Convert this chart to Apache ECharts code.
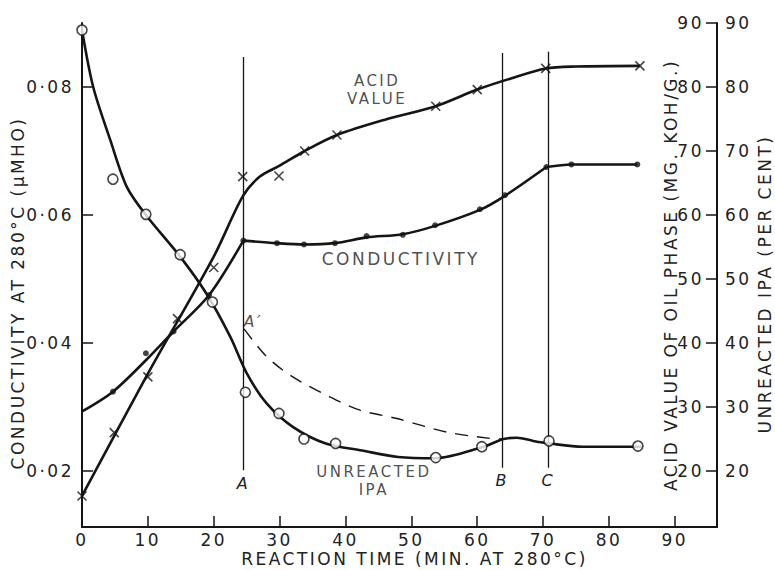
<!DOCTYPE html>
<html>
<head>
<meta charset="utf-8">
<script src="https://cdn.jsdelivr.net/npm/echarts@6/dist/echarts.min.js"></script>
<style>
  html, body { margin: 0; padding: 0; background: #fff; }
  #chart { width: 775px; height: 570px; }
  #chart text { letter-spacing: 2.5px; }
</style>
</head>
<body>
<div id="chart"></div>
<script>
// unreacted IPA (per cent), open circles
const ipaTime = [0, 4.7, 9.7, 14.9, 19.8, 24.8, 29.9, 33.7, 38.5, 53.7, 60.7, 70.9, 84.4];
const ipaValue = [88.9, 65.6, 60.1, 53.8, 46.4, 32.3, 29.0, 25.0, 24.3, 22.1, 23.8, 24.7, 23.9];
// drawn curve through the IPA points
const ipaCurveTime = [0, 1.7, 4.3, 6.8, 9.7, 14.9, 18.9, 22.5, 25, 28, 32, 37, 42.5, 48, 53.7, 60.7, 64, 66, 68.5, 71, 76, 85];
const ipaCurveValue = [88.9, 80, 71.7, 64.4, 60, 53.5, 47.7, 41, 35.3, 30.6, 26.9, 24.3, 23.2, 22.2, 22.0, 23.7, 25.0, 25.2, 24.7, 24.3, 23.8, 23.8];
// dashed A' -> B curve
const dashTime = [24.6, 28, 32, 37.6, 42.2, 47.8, 55.3, 61.9, 63.8];
const dashValue = [42.2, 37.9, 34.7, 31.6, 29.5, 28.2, 26.1, 25.1, 25.0];

// conductivity (umho), filled dots
const condTime = [4.7, 9.7, 13.9, 19.3, 24.5, 29.6, 33.7, 38.4, 43.2, 48.7, 53.6, 60.4, 64.2, 70.5, 74.3, 84.3];
const condValue = [0.0324, 0.0384, 0.0418, 0.0475, 0.0560, 0.0556, 0.0554, 0.0556, 0.0567, 0.0569, 0.0584, 0.0609, 0.0631, 0.0675, 0.0679, 0.0679];
// conductivity curve, null = break at the corners A and C
const condCurveTime = [0, 4.7, 9.7, 13.9, 19.3, 24.5, null, 24.5, 29.6, 33.7, 38.4, 43.2, 48.7, 53.6, 60.4, 64.2, 70.5, null, 70.5, 74.3, 84.3];
const condCurveValue = [0.0293, 0.0324, 0.0373, 0.0418, 0.0475, 0.0560, null, 0.0560, 0.0556, 0.0554, 0.0556, 0.0565, 0.0570, 0.0583, 0.0608, 0.0630, 0.0675, null, 0.0675, 0.0679, 0.0679];

// acid value (mg KOH/g), crosses
const acidTime = [0, 4.9, 10, 14.5, 20, 24.4, 29.9, 33.8, 38.7, 53.7, 60, 70.4, 84.7];
const acidValue = [16.1, 26.0, 34.7, 43.8, 51.8, 66.0, 66.1, 70.0, 72.5, 77.0, 79.6, 82.9, 83.3];
const acidCurveTime = [0, 10, 20, 24.4, 27, 30, 33.8, 38.7, 46, 53.7, 60, 65, 70.4, 75, 84.7];
const acidCurveValue = [16.1, 35.2, 53.5, 62.9, 66, 67.7, 70, 72.5, 74.9, 77, 79.6, 81.3, 82.9, 83.2, 83.3];

// vertical reference lines
const eventName = ['A', 'B', 'C'];
const eventTime = [24.5, 63.8, 70.8];
const eventTop = [84.7, 85.3, 85.5];
const eventBottom = [20.1, 20.5, 20.5];

// text written on the plot
const noteText = ['ACID\nVALUE', 'CONDUCTIVITY', 'UNREACTED\nIPA', 'A′'];
const noteTime = [44.8, 48.4, 44.3, 26.0];
const noteValue = [79.6, 53.1, 18.5, 43.3];

// axis ticks
const timeTicks = [0, 10, 20, 30, 40, 50, 60, 70, 80, 90];
const condTicks = [0.02, 0.04, 0.06, 0.08];
const rightTicks = [20, 30, 40, 50, 60, 70, 80, 90];

const font = 'DejaVu Sans';
const ink = '#151515';
const textColor = '#222';

const zip = (ts, vs) => ts.map((t, i) => (t === null ? ['-', '-'] : [t, vs[i]]));

// two-line notes are set a bit smaller, A' is italic like the event letters
function noteLabel(s) {
  if (s.indexOf('\n') >= 0) return { fontSize: 15, lineHeight: 18 };
  if (s === 'A′') return { fontSize: 16, fontStyle: 'italic' };
  return { fontSize: 17 };
}

const chart = echarts.init(document.getElementById('chart'), null, { renderer: 'svg' });

const txt = { fontFamily: font, fontSize: 17, color: textColor };

const option = {
  animation: false,
  backgroundColor: '#fff',
  grid: { left: 82, right: 58, top: 23, bottom: 43, outerBoundsMode: 'none' },
  xAxis: {
    type: 'value',
    min: 0,
    max: 96.4,
    axisLine: { lineStyle: { color: ink, width: 2 } },
    axisTick: { inside: true, length: 11, customValues: timeTicks, lineStyle: { color: ink, width: 1.5 } },
    axisLabel: Object.assign({ customValues: timeTicks, margin: 4, lineHeight: 17 }, txt),
    splitLine: { show: false },
    name: 'REACTION TIME (MIN. AT 280°C)',
    nameLocation: 'middle',
    nameGap: 23,
    nameMoveOverlap: false,
    nameTextStyle: Object.assign({ padding: [0, 0, 0, 30], lineHeight: 17 }, txt),
  },
  yAxis: [
    {
      type: 'value',
      position: 'left',
      min: 0.01125,
      max: 0.09,
      axisLine: { show: true, lineStyle: { color: ink, width: 2 } },
      axisTick: { show: true, inside: true, length: 11, customValues: condTicks, lineStyle: { color: ink, width: 1.5 } },
      axisLabel: Object.assign({
        customValues: condTicks,
        margin: 8,
        formatter: (v) => v.toFixed(2).replace('.', '·'),
      }, txt),
      splitLine: { show: false },
      name: 'CONDUCTIVITY AT 280°C (μMHO)',
      nameLocation: 'middle',
      nameGap: 56,
      nameMoveOverlap: false,
      nameTextStyle: Object.assign({ padding: [0, 36, 0, 0], lineHeight: 17 }, txt),
    },
    {
      type: 'value',
      position: 'right',
      min: 11.25,
      max: 90,
      axisLine: { show: true, lineStyle: { color: ink, width: 2 } },
      axisTick: { show: true, inside: true, length: 11, customValues: rightTicks, lineStyle: { color: ink, width: 1.5 } },
      axisLabel: Object.assign({ customValues: rightTicks, inside: true, margin: 13 }, txt),
      splitLine: { show: false },
      name: 'ACID VALUE OF OIL PHASE (MG. KOH/G.)',
      nameLocation: 'middle',
      nameGap: -55,
      nameMoveOverlap: false,
      nameTextStyle: Object.assign({ lineHeight: 17 }, txt),
    },
    {
      type: 'value',
      position: 'right',
      min: 11.25,
      max: 90,
      axisLine: { show: false },
      axisTick: { show: false },
      axisLabel: Object.assign({ customValues: rightTicks, margin: 8 }, txt),
      splitLine: { show: false },
      name: 'UNREACTED IPA (PER CENT)',
      nameLocation: 'middle',
      nameGap: 39,
      nameMoveOverlap: false,
      nameTextStyle: Object.assign({ padding: [0, 18, 0, 0], lineHeight: 17 }, txt),
    },
  ],
  series: [
    {
      name: 'IPA curve',
      type: 'line',
      yAxisIndex: 2,
      smooth: 0.3,
      symbol: 'none',
      lineStyle: { color: ink, width: 2.6 },
      data: zip(ipaCurveTime, ipaCurveValue),
      z: 3,
    },
    {
      name: 'IPA extrapolated',
      type: 'line',
      yAxisIndex: 2,
      smooth: 0.3,
      symbol: 'none',
      lineStyle: { color: ink, width: 1.4, type: [13, 9] },
      data: zip(dashTime, dashValue),
      z: 3,
    },
    {
      name: 'Conductivity curve',
      type: 'line',
      yAxisIndex: 0,
      smooth: 0.3,
      symbol: 'none',
      connectNulls: false,
      lineStyle: { color: ink, width: 2.6 },
      data: zip(condCurveTime, condCurveValue),
      z: 3,
    },
    {
      name: 'Acid value curve',
      type: 'line',
      yAxisIndex: 1,
      smooth: 0.3,
      symbol: 'none',
      lineStyle: { color: ink, width: 2.6 },
      data: zip(acidCurveTime, acidCurveValue),
      z: 3,
    },
    {
      name: 'Events',
      type: 'line',
      yAxisIndex: 1,
      data: [],
      markLine: {
        silent: true,
        symbol: 'none',
        lineStyle: { color: ink, width: 1.3, type: 'solid' },
        label: {
          show: true,
          position: 'start',
          distance: 5,
          formatter: (p) => p.name,
          fontFamily: font,
          fontSize: 16,
          fontStyle: 'italic',
          color: textColor,
        },
        data: eventTime.map((t, i) => [
          { name: eventName[i], coord: [t, eventBottom[i]] },
          { coord: [t, eventTop[i]] },
        ]),
      },
      z: 2,
    },
    {
      name: 'Unreacted IPA',
      type: 'scatter',
      yAxisIndex: 2,
      symbol: 'circle',
      symbolSize: 10,
      itemStyle: { color: '#fff', borderColor: ink, borderWidth: 1.6 },
      data: zip(ipaTime, ipaValue),
      z: 5,
    },
    {
      name: 'Conductivity',
      type: 'scatter',
      yAxisIndex: 0,
      symbol: 'circle',
      symbolSize: 6,
      itemStyle: { color: ink },
      data: zip(condTime, condValue),
      z: 5,
    },
    {
      name: 'Acid value',
      type: 'scatter',
      yAxisIndex: 1,
      symbol: 'path://M0 0L10 10M10 0L0 10',
      symbolSize: 9,
      itemStyle: { color: 'none', borderColor: ink, borderWidth: 1.6 },
      data: zip(acidTime, acidValue),
      z: 5,
    },
    {
      name: 'Notes',
      type: 'scatter',
      yAxisIndex: 1,
      symbolSize: 0,
      silent: true,
      label: {
        show: true,
        position: 'inside',
        formatter: (p) => p.name,
        fontFamily: font,
        align: 'center',
        color: textColor,
      },
      data: noteText.map((s, i) => ({
        name: s,
        value: [noteTime[i], noteValue[i]],
        label: noteLabel(s),
      })),
      z: 6,
    },
  ],
};

chart.setOption(option);
</script>
</body>
</html>
